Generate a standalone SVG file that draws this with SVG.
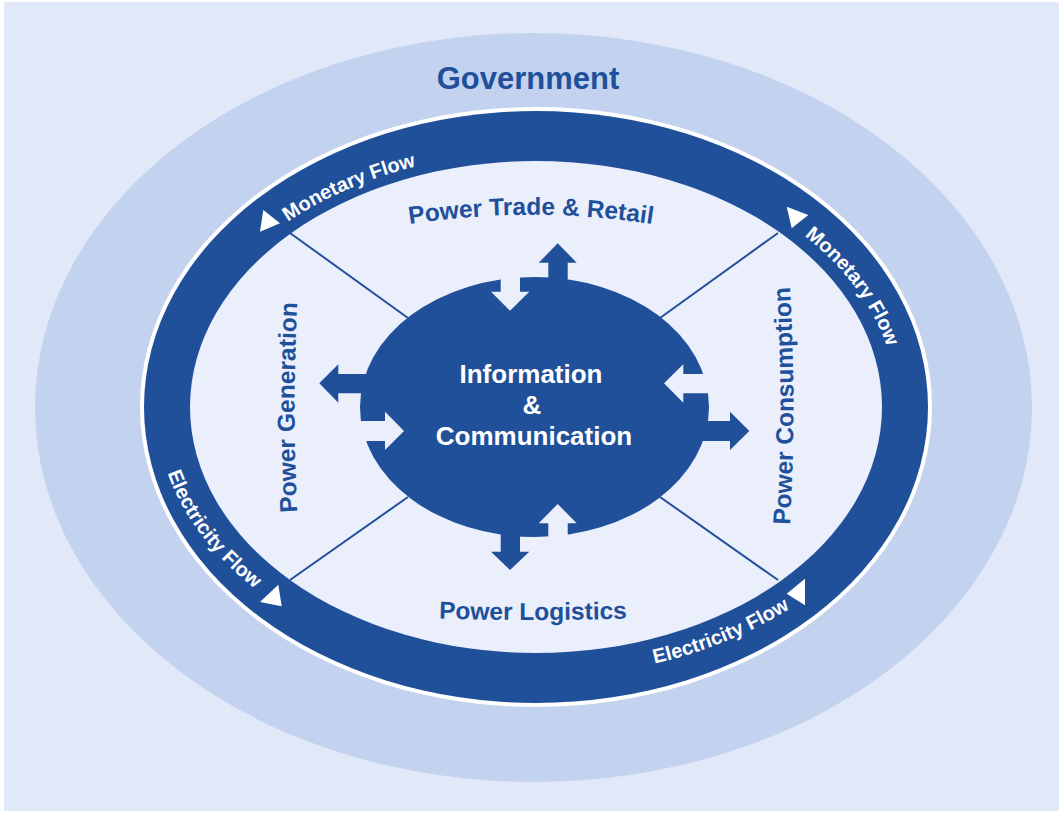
<svg xmlns="http://www.w3.org/2000/svg" width="1063" height="813" viewBox="0 0 1063 813">
<style>
.dark{fill:#21509B}
.lightf{fill:#EAEFFB}
.lbl{font-family:"Liberation Sans",Arial,sans-serif;font-weight:bold;fill:#21509B;font-size:24.5px}
.ring{font-family:"Liberation Sans",Arial,sans-serif;font-weight:bold;fill:#FFFFFF;font-size:20px}
.ctr{font-family:"Liberation Sans",Arial,sans-serif;font-weight:bold;fill:#FFFFFF;font-size:26px;text-anchor:middle}
.div{stroke:#21509B;stroke-width:2;fill:none}
.tri{fill:#FFFFFF}
</style>
<defs>
<path id="pMonTL" d="M 230.3 271.7 A 360.5 255.3 0 0 1 517.1 152.1"/>
<path id="pMonTR" d="M 743.1 197.3 A 361 256 0 0 1 897 407"/>
<path id="pEleBL" d="M 156.2 416.4 A 380 270 0 0 0 323.5 630.8"/>
<path id="pEleBR" d="M 549.3 676.8 A 381.5 270 0 0 0 856 554"/>
<path id="pTrade" d="M 371 231 A 800 800 0 0 1 691 231"/>
<path id="pLog" d="M 373 616 A 3200 3200 0 0 0 693 616"/>
<path id="pGen" d="M 299 540 A 2000 2000 0 0 1 299 275"/>
<path id="pCons" d="M 789 539 A 2000 2000 0 0 0 789 273"/>
</defs>
<rect x="0" y="0" width="1063" height="813" fill="#FFFFFF"/>
<rect x="4" y="2" width="1055" height="809" fill="#E1E8F7"/>
<g id="government">
<ellipse cx="533.5" cy="407.5" rx="498.5" ry="374.5" fill="#C3D3EF"/>
<text x="528" y="89" text-anchor="middle" style="font-family:'Liberation Sans',Arial,sans-serif;font-weight:bold;font-size:31px;fill:#21509B">Government</text>
</g>
<g id="flow-ring">
<ellipse cx="536" cy="407" rx="396" ry="300" fill="#FFFFFF"/>
<ellipse cx="536" cy="407" rx="392" ry="296" class="dark"/>
<ellipse cx="536" cy="407" rx="346" ry="246" class="lightf"/>
<text class="ring"><textPath href="#pMonTL" startOffset="46%" text-anchor="middle">Monetary Flow</textPath></text>
<text class="ring"><textPath href="#pMonTR" startOffset="52%" text-anchor="middle">Monetary Flow</textPath></text>
<text class="ring"><textPath href="#pEleBL" startOffset="46%" text-anchor="middle">Electricity Flow</textPath></text>
<text class="ring"><textPath href="#pEleBR" startOffset="53%" text-anchor="middle">Electricity Flow</textPath></text>
<polygon class="tri" points="263.3,210 280,223.3 260,231.7"/>
<polygon class="tri" points="786.7,206.7 808.3,215 791.7,228.3"/>
<polygon class="tri" points="278.3,584.7 260,602 281.7,606.3"/>
<polygon class="tri" points="805,578.7 786.7,593.7 805,605.3"/>
</g>
<g id="power-trade-retail">
<text class="lbl"><textPath href="#pTrade" startOffset="50%" text-anchor="middle">Power Trade &amp; Retail</textPath></text>
</g>
<g id="power-generation">
<text class="lbl"><textPath href="#pGen" startOffset="50%" text-anchor="middle">Power Generation</textPath></text>
</g>
<g id="power-consumption">
<text class="lbl"><textPath href="#pCons" startOffset="50%" text-anchor="middle">Power Consumption</textPath></text>
</g>
<g id="power-logistics">
<text class="lbl"><textPath href="#pLog" startOffset="50%" text-anchor="middle">Power Logistics</textPath></text>
</g>
<g id="connectors">
<line class="div" x1="290" y1="233" x2="408" y2="318"/>
<line class="div" x1="778" y1="233" x2="660" y2="318"/>
<line class="div" x1="290" y1="580" x2="408" y2="497"/>
<line class="div" x1="778" y1="580" x2="660" y2="497"/>
</g>
<g id="information-communication">
<ellipse cx="534.5" cy="407" rx="174.5" ry="130" class="dark"/>
<polygon class="dark" points="557.7,243.3 576.7,262.7 567.7,262.7 567.7,300 548.3,300 548.3,262.7 538.7,262.7"/>
<polygon class="dark" points="510,570 491,551.7 500.7,551.7 500.7,515 520,515 520,551.7 529.3,551.7"/>
<polygon class="dark" points="319.3,383.3 338.3,364.3 338.3,374 400,374 400,393.3 338.3,393.3 338.3,402.7"/>
<polygon class="dark" points="749.3,431 730,411.7 730,421 680,421 680,441 730,441 730,450"/>
<polygon class="lightf" points="510,310.7 491,291.7 500.7,291.7 500.7,270 520,270 520,291.7 529.3,291.7"/>
<polygon class="lightf" points="557.7,504 576.7,523.3 567.7,523.3 567.7,545 548.3,545 548.3,523.3 538.7,523.3"/>
<polygon class="lightf" points="404,431 385,411.7 385,421 352,421 352,441 385,441 385,450"/>
<polygon class="lightf" points="664,383.3 683.3,364.3 683.3,374 716,374 716,393.3 683.3,393.3 683.3,402.7"/>
<text class="ctr" x="531" y="383">Information</text>
<text class="ctr" x="532" y="414">&amp;</text>
<text class="ctr" x="534" y="445">Communication</text>
</g>
</svg>
